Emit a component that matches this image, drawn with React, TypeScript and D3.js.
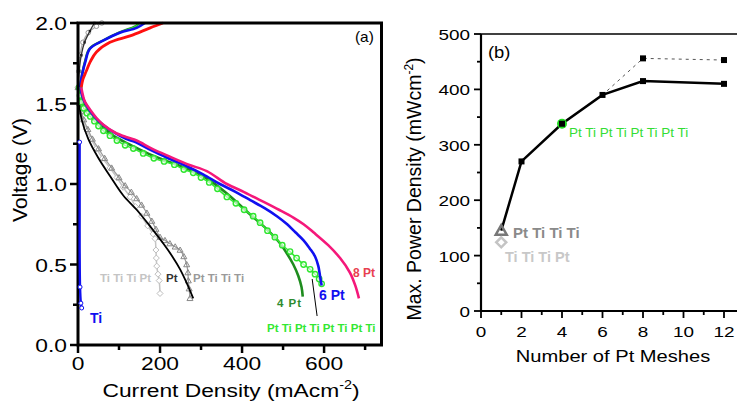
import React from 'react';
import * as d3 from 'd3';

type P = [number, number];

// ---------- Panel (a): voltage (V) vs current density (mA cm^-2) ----------
const xTicksA = [0, 200, 400, 600];
const xMinorA = [100, 300, 500, 700];
const yTicksA = [0, 0.5, 1.0, 1.5, 2.0];
const yMinorA = [0.25, 0.75, 1.25, 1.75];

const tiCurve: P[] = [[4, 1.26], [4, 1.03], [4, 0.8], [4, 0.6], [5, 0.36], [7, 0.26], [9, 0.23]];
const tiMarkers: P[] = [[4, 1.26], [5, 0.36], [7, 0.26], [9, 0.23]];

const grayUpper: P[] = [[0, 1.6], [2, 1.7], [5, 1.8], [12, 1.88], [25, 1.94], [45, 1.98], [58, 2.0]];
const blackUpper: P[] = [[1, 1.6], [3, 1.7], [8, 1.8], [16, 1.88], [29, 1.95], [40, 2.0]];

const ttpLower: P[] = [[0, 1.6], [4, 1.5], [8, 1.45], [12, 1.4], [20, 1.34], [32, 1.28], [45, 1.22], [60, 1.16], [78, 1.1], [95, 1.04], [110, 0.98], [127, 0.92], [140, 0.86], [155, 0.8], [170, 0.74], [183, 0.69], [188, 0.66], [190, 0.59], [191, 0.54], [192, 0.49], [195, 0.44], [198, 0.4], [200, 0.32]];
const ptLower: P[] = [[0, 1.6], [3, 1.5], [9, 1.4], [25, 1.28], [50, 1.16], [78, 1.05], [110, 0.93], [143, 0.84], [175, 0.74], [208, 0.63], [230, 0.55], [249, 0.47], [266, 0.38], [281, 0.29]];
const pttLower: P[] = [[0, 1.6], [4, 1.5], [8, 1.45], [14, 1.4], [24, 1.34], [35, 1.28], [50, 1.22], [65, 1.16], [82, 1.1], [100, 1.04], [115, 0.99], [130, 0.95], [143, 0.91], [155, 0.87], [168, 0.82], [180, 0.77], [190, 0.72], [200, 0.67], [212, 0.65], [224, 0.63], [237, 0.61], [249, 0.59], [258, 0.55], [265, 0.5], [268, 0.45], [269, 0.4], [271, 0.35], [273, 0.29]];

const greenUpper: P[] = [[5, 1.6], [10, 1.68], [17, 1.76], [28, 1.84], [60, 1.89], [100, 1.94], [140, 1.98], [150, 2.0]];
const blueUpper: P[] = [[5, 1.6], [10, 1.68], [18, 1.76], [29, 1.84], [61, 1.89], [102, 1.94], [143, 1.97], [163, 2.0]];
const redUpper: P[] = [[8, 1.6], [12, 1.65], [20, 1.7], [30, 1.76], [45, 1.82], [78, 1.88], [127, 1.92], [176, 1.97], [207, 2.0]];

const altLower: P[] = [[3, 1.6], [5, 1.55], [8, 1.51], [14, 1.47], [22, 1.44], [30, 1.42], [40, 1.39], [50, 1.36], [62, 1.33], [78, 1.3], [95, 1.27], [115, 1.24], [135, 1.22], [159, 1.19], [185, 1.16], [210, 1.14], [235, 1.12], [258, 1.09], [281, 1.07], [300, 1.04], [320, 1.01], [340, 0.97], [363, 0.92], [385, 0.88], [405, 0.84], [427, 0.8], [444, 0.76], [462, 0.71], [480, 0.67], [498, 0.62], [517, 0.58], [533, 0.54], [550, 0.5], [566, 0.47], [578, 0.44], [588, 0.41], [594, 0.38]];
const pt4Lower: P[] = [[3, 1.6], [10, 1.52], [34, 1.43], [58, 1.36], [86, 1.3], [130, 1.24], [170, 1.19], [230, 1.13], [290, 1.07], [328, 1.01], [368, 0.93], [420, 0.81], [460, 0.72], [490, 0.64], [509, 0.57], [525, 0.5], [537, 0.43], [545, 0.36], [548, 0.3]];
const pt6Lower: P[] = [[6, 1.6], [10, 1.55], [16, 1.51], [28, 1.46], [43, 1.41], [60, 1.37], [88, 1.32], [117, 1.28], [140, 1.26], [178, 1.21], [220, 1.16], [265, 1.11], [305, 1.06], [346, 1.0], [385, 0.95], [420, 0.9], [455, 0.85], [485, 0.8], [510, 0.75], [530, 0.7], [550, 0.65], [565, 0.6], [578, 0.55], [586, 0.49], [590, 0.43], [594, 0.37]];
const pt8Lower: P[] = [[8, 1.6], [12, 1.55], [17, 1.51], [30, 1.46], [45, 1.41], [61, 1.37], [90, 1.32], [119, 1.29], [143, 1.27], [180, 1.22], [224, 1.17], [270, 1.12], [314, 1.08], [363, 1.0], [405, 0.95], [444, 0.9], [490, 0.84], [526, 0.79], [550, 0.75], [574, 0.7], [610, 0.62], [639, 0.54], [663, 0.45], [676, 0.37], [685, 0.29]];
const leaderLine: P[] = [[571, 0.41], [583, 0.18]];

// ---------- Panel (b): max power density vs number of Pt meshes ----------
const xTicksB = [0, 2, 4, 6, 8, 10, 12];
const xMinorB = [1, 3, 5, 7, 9, 11];
const yTicksB = [0, 100, 200, 300, 400, 500];
const yMinorB = [50, 150, 250, 350, 450];
const meshesSolid: P[] = [[1, 145], [2, 270], [4, 338], [6, 390], [8, 415], [12, 410]];
const meshesDotted: P[] = [[4, 338], [6, 390], [8, 456], [12, 453]];
const ptTiTiTi: P = [1, 147];
const tiTiTiPt: P = [1, 124];
const ptTiAlt: P = [4, 338];

const FONT = "'Liberation Sans', Arial, sans-serif";
const SX = 1.2;

const xa = d3.scaleLinear().domain([0, 740]).range([78, 381.5]);
const ya = d3.scaleLinear().domain([0, 2]).range([345, 23]);
const xb = d3.scaleLinear().domain([0, 12]).range([481, 724]);
const yb = d3.scaleLinear().domain([0, 500]).range([311, 34]);

const mkLine = (xs: d3.ScaleLinear<number, number>, ys: d3.ScaleLinear<number, number>, curve = true) =>
  d3.line<P>().x(d => xs(d[0])).y(d => ys(d[1])).curve(curve ? d3.curveCatmullRom.alpha(0.5) : d3.curveLinear);

const la = mkLine(xa, ya);
const lb = mkLine(xb, yb, false);

function SText(props: { x: number; y: number; size: number; anchor?: string; fill?: string; weight?: string; sx?: number; children: React.ReactNode }) {
  const { x, y, size, anchor = 'start', fill = '#000', weight = 'normal', sx = SX, children } = props;
  return (
    <text transform={`translate(${x},${y}) scale(${sx},1)`} fontSize={size} fontFamily={FONT} textAnchor={anchor} fill={fill} fontWeight={weight}>
      {children}
    </text>
  );
}

const tri = (cx: number, cy: number, s: number) => `M${cx},${cy - s}L${cx + s},${cy + s * 0.75}L${cx - s},${cy + s * 0.75}Z`;
const dia = (cx: number, cy: number, s: number) => `M${cx},${cy - s}L${cx + s},${cy}L${cx},${cy + s}L${cx - s},${cy}Z`;

export default function App() {
  return (
    <div style={{ position: 'absolute', left: 0, top: 0 }}>
      <svg width={737} height={402} style={{ display: 'block', background: '#fff' }}>
        {/* ================= Panel (a) ================= */}
        <g>
          {/* gray group upper branches */}
          <path d={la(grayUpper) || ''} fill="none" stroke="#aaa" strokeWidth={1.2} />
          {grayUpper.map((d, i) => (
            <circle key={'gu' + i} cx={xa(d[0])} cy={ya(d[1])} r={2.3} fill="#fff" stroke="#999" strokeWidth={1} />
          ))}
          <path d={la(blackUpper) || ''} fill="none" stroke="#333" strokeWidth={1.3} />
          {blackUpper.map((d, i) => (
            <rect key={'bu' + i} x={xa(d[0]) - 1.2} y={ya(d[1]) - 1.2} width={2.4} height={2.4} fill="#222" />
          ))}

          {/* Ti Ti Ti Pt : light gray diamonds */}
          <path d={la(ttpLower) || ''} fill="none" stroke="#c4c4c4" strokeWidth={1.5} />
          {ttpLower.map((d, i) => (
            <path key={'dd' + i} d={dia(xa(d[0]), ya(d[1]), 3)} fill="#fff" stroke="#bdbdbd" strokeWidth={1} />
          ))}
          {/* Pt Ti Ti Ti : gray triangles */}
          <path d={la(pttLower) || ''} fill="none" stroke="#999" strokeWidth={1.2} />
          {pttLower.map((d, i) => (
            <path key={'tt' + i} d={tri(xa(d[0]), ya(d[1]), 3)} fill="none" stroke="#888" strokeWidth={1} />
          ))}
          {/* Pt : black */}
          <path d={la(ptLower) || ''} fill="none" stroke="#000" strokeWidth={1.8} />

          {/* greens */}
          <path d={la(greenUpper) || ''} fill="none" stroke="#1e8c1e" strokeWidth={2.4} />
          <path d={la(greenUpper) || ''} fill="none" stroke="#33e833" strokeWidth={1.2} />
          <path d={la(pt4Lower) || ''} fill="none" stroke="#1e8c1e" strokeWidth={2.6} />
          <path d={la(altLower) || ''} fill="none" stroke="#33e833" strokeWidth={1.5} />
          {altLower.map((d, i) => (
            <circle key={'ga' + i} cx={xa(d[0])} cy={ya(d[1])} r={2.7} fill="#fff" fillOpacity={0.6} stroke="#2ee62e" strokeWidth={1.4} />
          ))}

          {/* blue 6 Pt */}
          <path d={la(blueUpper) || ''} fill="none" stroke="#1010f0" strokeWidth={2.6} />
          <path d={la(pt6Lower) || ''} fill="none" stroke="#1010f0" strokeWidth={2.6} />
          {/* red 8 Pt */}
          <path d={la(redUpper) || ''} fill="none" stroke="#ff1010" strokeWidth={2.8} />
          <path d={la(pt8Lower) || ''} fill="none" stroke="#f5187a" strokeWidth={2.6} />

          {/* frame */}
          <rect x={78} y={23} width={303.5} height={322} fill="none" stroke="#000" strokeWidth={3} />

          {/* Ti (drawn just right of the axis) */}
          <path d={la(tiCurve) || ''} fill="none" stroke="#1010f0" strokeWidth={2.4} />
          {tiMarkers.map((d, i) => (
            <circle key={'ti' + i} cx={xa(d[0])} cy={ya(d[1])} r={2} fill="#fff" stroke="#1010f0" strokeWidth={1} />
          ))}

          {/* leader line */}
          <path d={mkLine(xa, ya, false)(leaderLine) || ''} stroke="#000" strokeWidth={1} fill="none" />

          {/* ticks */}
          {yTicksA.map(t => (
            <line key={'yta' + t} x1={70} x2={78} y1={ya(t)} y2={ya(t)} stroke="#000" strokeWidth={2.5} />
          ))}
          {yMinorA.map(t => (
            <line key={'yma' + t} x1={73} x2={78} y1={ya(t)} y2={ya(t)} stroke="#000" strokeWidth={2.5} />
          ))}
          {xTicksA.map(t => (
            <line key={'xta' + t} x1={xa(t)} x2={xa(t)} y1={345} y2={353} stroke="#000" strokeWidth={2.5} />
          ))}
          {xMinorA.map(t => (
            <line key={'xma' + t} x1={xa(t)} x2={xa(t)} y1={345} y2={350} stroke="#000" strokeWidth={2.5} />
          ))}
          {yTicksA.map(t => (
            <SText key={'yla' + t} x={67} y={ya(t) + 7} size={19} anchor="end">{d3.format('.1f')(t)}</SText>
          ))}
          {xTicksA.map(t => (
            <SText key={'xla' + t} x={xa(t)} y={370} size={19} anchor="middle">{String(t)}</SText>
          ))}
          <SText x={231} y={397} size={19} anchor="middle">
            Current Density (mAcm<tspan fontSize={12} dy={-8}>-2</tspan><tspan dy={8}>)</tspan>
          </SText>
          <text transform="translate(27,170) rotate(-90)" fontSize={21} fontFamily={FONT} textAnchor="middle">Voltage (V)</text>
          <SText x={355} y={42} size={14} sx={1.1}>(a)</SText>

          {/* labels */}
          <text x={90} y={323} fontSize={14} fontWeight="bold" fontFamily={FONT} fill="#1010f0">Ti</text>
          <text x={100} y={282} fontSize={11.5} fontWeight="bold" fontFamily={FONT} fill="#c4c4c4">Ti Ti Ti Pt</text>
          <text x={166} y={282} fontSize={11.5} fontWeight="bold" fontFamily={FONT} fill="#333">Pt</text>
          <text x={193} y={282} fontSize={11.5} fontWeight="bold" fontFamily={FONT} fill="#9a9a9a">Pt Ti Ti Ti</text>
          <text x={277} y={307} fontSize={11.5} fontWeight="bold" fontFamily={FONT} fill="#2e8b2e" letterSpacing={1}>4 Pt</text>
          <text x={319} y={300} fontSize={14} fontWeight="bold" fontFamily={FONT} fill="#1010f0">6 Pt</text>
          <text x={353} y={277} fontSize={12} fontWeight="bold" fontFamily={FONT} fill="#e8404f">8 Pt</text>
          <text x={267} y={332} fontSize={11.5} fontWeight="bold" fontFamily={FONT} fill="#33e833">Pt Ti Pt Ti Pt Ti Pt Ti</text>
        </g>

        {/* ================= Panel (b) ================= */}
        <g>
          <path d={lb(meshesDotted) || ''} fill="none" stroke="#555" strokeWidth={1} strokeDasharray="3,4" />
          <path d={lb(meshesSolid) || ''} fill="none" stroke="#000" strokeWidth={2.5} />
          <circle cx={xb(ptTiAlt[0])} cy={yb(ptTiAlt[1])} r={5} fill="#22dd22" />
          {meshesSolid.slice(1).map((d, i) => (
            <rect key={'ms' + i} x={xb(d[0]) - 3} y={yb(d[1]) - 3} width={6} height={6} fill="#000" />
          ))}
          {meshesDotted.slice(2).map((d, i) => (
            <rect key={'md' + i} x={xb(d[0]) - 3} y={yb(d[1]) - 3} width={6} height={6} fill="#000" />
          ))}
          <path d={tri(xb(ptTiTiTi[0]), yb(ptTiTiTi[1]) + 1, 5.5)} fill="none" stroke="#777" strokeWidth={2.5} />
          <path d={dia(xb(tiTiTiPt[0]), yb(tiTiTiPt[1]), 5)} fill="none" stroke="#c4c4c4" strokeWidth={2.5} />

          {/* frame */}
          <line x1={481} x2={740} y1={34} y2={34} stroke="#000" strokeWidth={1.6} />
          <line x1={481} x2={740} y1={311} y2={311} stroke="#000" strokeWidth={2.2} />
          <line x1={481} x2={481} y1={34} y2={311} stroke="#000" strokeWidth={2.2} />

          {yTicksB.map(t => (
            <line key={'ytb' + t} x1={474} x2={481} y1={yb(t)} y2={yb(t)} stroke="#000" strokeWidth={1.8} />
          ))}
          {yMinorB.map(t => (
            <line key={'ymb' + t} x1={477} x2={481} y1={yb(t)} y2={yb(t)} stroke="#000" strokeWidth={1.8} />
          ))}
          {xTicksB.map(t => (
            <line key={'xtb' + t} x1={xb(t)} x2={xb(t)} y1={311} y2={318} stroke="#000" strokeWidth={1.8} />
          ))}
          {xMinorB.map(t => (
            <line key={'xmb' + t} x1={xb(t)} x2={xb(t)} y1={311} y2={315} stroke="#000" strokeWidth={1.8} />
          ))}
          {yTicksB.map(t => (
            <SText key={'ylb' + t} x={470} y={yb(t) + 6} size={15.5} anchor="end" sx={1.22}>{String(t)}</SText>
          ))}
          {xTicksB.map(t => (
            <SText key={'xlb' + t} x={xb(t)} y={337} size={15.5} anchor="middle" sx={1.22}>{String(t)}</SText>
          ))}
          <SText x={613} y={362} size={16.5} anchor="middle" sx={1.22}>Number of Pt Meshes</SText>
          <text transform="translate(421,189) rotate(-90)" fontSize={19.5} fontFamily={FONT} textAnchor="middle">
            Max. Power Density (mWcm<tspan fontSize={12} dy={-8}>-2</tspan><tspan dy={8}>)</tspan>
          </text>
          <SText x={488} y={58} size={16} sx={1.15}>(b)</SText>

          <text x={569} y={137} fontSize={13.5} fontFamily={FONT} fill="#33dd33">Pt Ti Pt Ti Pt Ti Pt Ti</text>
          <text x={513} y={238} fontSize={15} fontWeight="bold" fontFamily={FONT} fill="#8a8a8a">Pt Ti Ti Ti</text>
          <text x={505} y={262} fontSize={14.5} fontWeight="bold" fontFamily={FONT} fill="#c8c8c8">Ti Ti Ti Pt</text>
        </g>
      </svg>
    </div>
  );
}
